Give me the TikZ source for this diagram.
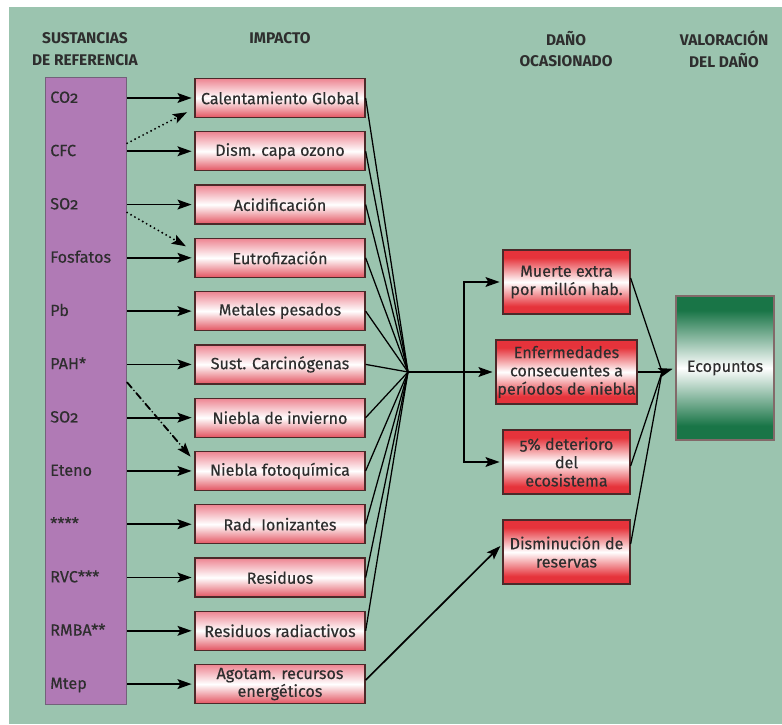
\documentclass[tikz,border=0pt]{standalone}
\usepackage{fontspec}
\setmainfont{Fira Sans}[Numbers=OldStyle, UprightFeatures={FakeBold=0.4}]
\usetikzlibrary{arrows.meta}
\definecolor{fondo}{rgb}{0.608,0.769,0.686}
\definecolor{lila}{rgb}{0.69,0.478,0.71}
\definecolor{lilaborde}{rgb}{0.45,0.38,0.48}
\definecolor{rojo}{rgb}{0.9,0.2,0.23}
\definecolor{rosa}{rgb}{0.93,0.52,0.57}
\definecolor{rojoclaro}{rgb}{0.89,0.33,0.38}
\definecolor{verde}{rgb}{0.1,0.46,0.28}
\definecolor{borde}{rgb}{0.3,0.16,0.16}
\definecolor{texto}{rgb}{0.18,0.18,0.18}
\pgfdeclareverticalshading{rojoblanco}{100bp}{color(0bp)=(rojo); color(25bp)=(rojo); color(31bp)=(rojo); color(50bp)=(white); color(69bp)=(rojo); color(75bp)=(rojo); color(100bp)=(rojo)}
\pgfdeclareverticalshading{verdeblanco}{100bp}{color(0bp)=(verde); color(25bp)=(verde); color(30bp)=(verde); color(50bp)=(white); color(70bp)=(verde); color(75bp)=(verde); color(100bp)=(verde)}

\begin{document}
\begin{tikzpicture}[x=1.0cm,y=1.0cm,
    titulo/.style={font=\bfseries\fontsize{11}{15.5}\selectfont, align=center, text=texto},
    sust/.style={anchor=west, inner sep=0pt, text=texto, font=\fontsize{11.5}{13}\selectfont, text height=1.6ex, text depth=.3ex},
    impacto/.style={draw=borde, line width=0.9pt, top color=rosa, bottom color=rojoclaro, middle color=white, minimum width=4.25cm, minimum height=0.975cm, inner sep=1pt, align=center, text=texto, font=\fontsize{11.5}{10.5}\selectfont},
    dano/.style={draw=borde, line width=0.9pt, shade, shading=rojoblanco, minimum width=3.175cm, minimum height=1.6cm, inner sep=1pt, align=center, text=texto, font=\fontsize{11.5}{13}\selectfont},
    flecha/.style={line width=1.2pt, -{Stealth[length=10pt,width=7pt,inset=2pt]}, shorten >=2pt},
    linea/.style={line width=0.9pt}]
\useasboundingbox (0,0) rectangle (19.55,18.1);
\fill [color=white] (0,0) rectangle (19.55,18.1);
\fill [color=fondo] (0.225,0) rectangle (19.55,17.925);

% encabezados
\node [titulo] (h1) at (2.125,16.875) {SUSTANCIAS\\DE REFERENCIA};
\node [titulo] (h2) at (7.0,17.15) {IMPACTO};
\node [titulo] (h3) at (14.15,16.875) {DAÑO\\OCASIONADO};
\node [titulo] (h4) at (18.1,16.875) {VALORACIÓN\\DEL DAÑO};

% sustancias
\node [draw=lilaborde, line width=0.8pt, fill=lila, inner sep=0pt, minimum width=2.025cm, minimum height=15.675cm, anchor=south west] (barra) at (1.125,0.475) {};
\node [sust] (s1) at (1.25,15.65) {CO2};
\node [sust] (s2) at (1.25,14.318) {CFC};
\node [sust] (s3) at (1.25,12.986) {SO2};
\node [sust] (s4) at (1.25,11.654) {Fosfatos};
\node [sust] (s5) at (1.25,10.322) {Pb};
\node [sust] (s6) at (1.25,8.99) {PAH*};
\node [sust] (s7) at (1.25,7.658) {SO2};
\node [sust] (s8) at (1.25,6.326) {Eteno};
\node [sust] (s9) at (1.25,4.994) {****};
\node [sust] (s10) at (1.25,3.662) {RVC***};
\node [sust] (s11) at (1.25,2.33) {RMBA**};
\node [sust] (s12) at (1.25,0.998) {Mtep};

% impactos
\node [impacto] (i1) at (7.0,15.65) {Calentamiento Global};
\node [impacto] (i2) at (7.0,14.318) {Dism. capa ozono};
\node [impacto] (i3) at (7.0,12.986) {Acidificación};
\node [impacto] (i4) at (7.0,11.654) {Eutrofización};
\node [impacto] (i5) at (7.0,10.322) {Metales pesados};
\node [impacto] (i6) at (7.0,8.99) {Sust. Carcinógenas};
\node [impacto] (i7) at (7.0,7.658) {Niebla de invierno};
\node [impacto] (i8) at (7.0,6.326) {Niebla fotoquímica};
\node [impacto] (i9) at (7.0,4.994) {Rad. Ionizantes};
\node [impacto] (i10) at (7.0,3.662) {Residuos};
\node [impacto] (i11) at (7.0,2.33) {Residuos radiactivos};
\node [impacto] (i12) at (7.0,0.998) {Agotam. recursos\\energéticos};

% daños y valoracion
\node [dano] (d1) at (14.1625,11.05) {Muerte extra\\por millón hab.};
\node [dano] (d2) at (14.1625,8.8) {Enfermedades\\consecuentes a\\períodos de niebla};
\node [dano] (d3) at (14.1625,6.55) {5\% deterioro\\del\\ecosistema};
\node [dano] (d4) at (14.1625,4.3) {Disminución de\\reservas};
\node [draw=borde!70, line width=0.8pt, shade, shading=verdeblanco, minimum width=2.45cm, minimum height=3.6cm, text=texto, font=\fontsize{11.5}{13}\selectfont] (eco) at (18.125,8.9) {Ecopuntos};

\coordinate (A) at (10.2,8.8);
\coordinate (rama) at (11.6,8.8);
\coordinate (B) at (16.55,8.8);

% flechas sustancia -> impacto
\draw [flecha] (barra.east |- s1) -- (i1.west);
\draw [flecha] (barra.east |- s2) -- (i2.west);
\draw [flecha] (barra.east |- s3) -- (i3.west);
\draw [flecha] (barra.east |- s4) -- (i4.west);
\draw [flecha] (barra.east |- s5) -- (i5.west);
\draw [flecha] (barra.east |- s6) -- (i6.west);
\draw [flecha] (barra.east |- s7) -- (i7.west);
\draw [flecha] (barra.east |- s8) -- (i8.west);
\draw [flecha] (barra.east |- s9) -- (i9.west);
\draw [flecha] (barra.east |- s10) -- (i10.west);
\draw [flecha] (barra.east |- s11) -- (i11.west);
\draw [flecha] (barra.east |- s12) -- (i12.west);
\draw [flecha, dash pattern=on 0pt off 3.2pt, line cap=round, line width=1.5pt] ([yshift=0.2cm]barra.east |- s2) -- ([xshift=-0.12cm,yshift=0.18cm]i1.south west);
\draw [flecha, dash pattern=on 0pt off 3.2pt, line cap=round, line width=1.5pt] ([yshift=-0.2cm]barra.east |- s3) -- ([xshift=-0.15cm,yshift=-0.25cm]i4.north west);
\draw [flecha, dash pattern=on 5pt off 2.5pt on 0pt off 2.5pt, line cap=round, line width=1.3pt] ([yshift=-0.45cm]barra.east |- s6) -- ([xshift=-0.05cm,yshift=-0.2cm]i8.north west);

% impacto -> daño
\draw [linea] (i1.east) -- (A);
\draw [linea] (i2.east) -- (A);
\draw [linea] (i3.east) -- (A);
\draw [linea] (i4.east) -- (A);
\draw [linea] (i5.east) -- (A);
\draw [linea] (i6.east) -- (A);
\draw [linea] (i7.east) -- (A);
\draw [linea] (i8.east) -- (A);
\draw [linea] (i9.east) -- (A);
\draw [linea] (i10.east) -- (A);
\draw [linea] (i11.east) -- (A);
\draw [flecha] (A) -- (d2.west);
\draw [flecha] (rama) |- (d1.west);
\draw [flecha] (rama) |- (d3.west);
\draw [flecha] ([yshift=0.1cm]i12.east) -- ([yshift=0.2cm]d4.west);

% daño -> valoracion
\draw [linea] ([yshift=0.1cm]d1.east) -- (B);
\draw [linea] (d2.east) -- (B);
\draw [linea] ([yshift=-0.1cm]d3.east) -- (B);
\draw [linea] ([yshift=0.2cm]d4.east) -- (B);
\draw [flecha] (B) -- (eco.west);
\end{tikzpicture}
\end{document}
